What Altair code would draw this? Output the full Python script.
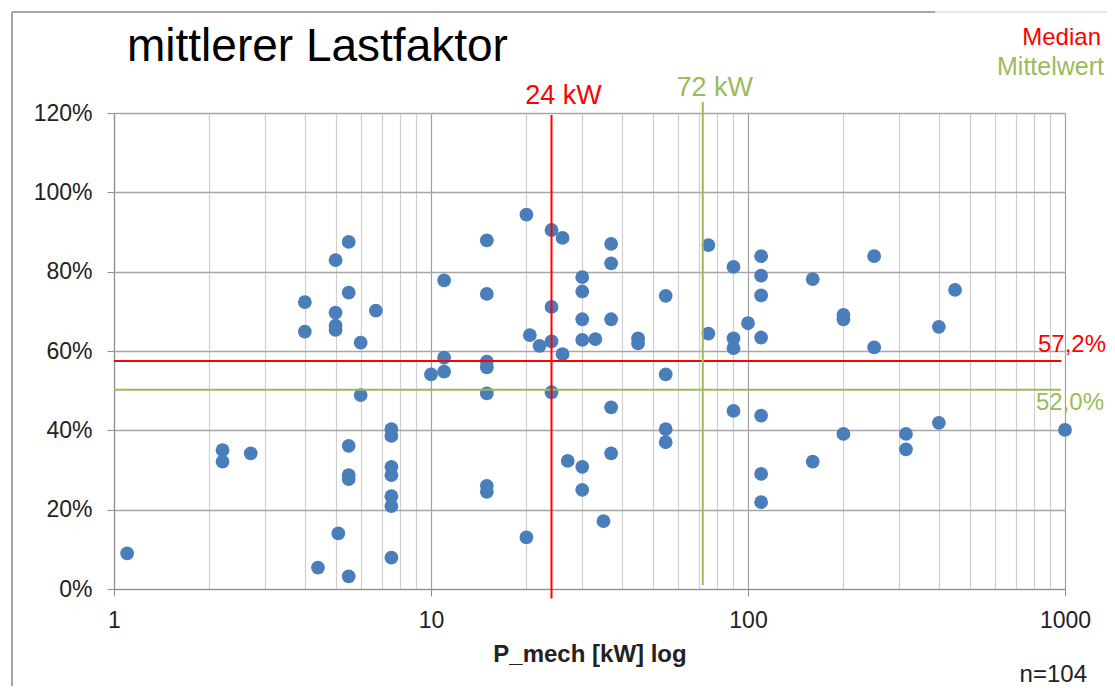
import altair as alt
import pandas as pd

# ---- data ----
p_mech = [
    5.5, 5.0, 5.5, 4.0, 5.0, 6.7, 5.0, 5.0, 4.0, 6.0,
    10.0, 6.0, 7.5, 7.5, 2.2, 2.2, 2.7, 5.5, 5.5, 5.5,
    7.5, 7.5, 7.5, 7.5, 5.1, 1.1, 4.4, 5.5, 7.5,
    20, 24, 26, 15, 37, 37, 75, 90, 11, 30,
    30, 15, 55, 24, 30, 37, 100, 75, 90, 90,
    20.5, 22, 24, 30, 33, 45, 45, 26, 11, 11,
    15, 15, 15, 24, 55, 37, 90, 55, 55, 37,
    27, 30, 15, 15, 30, 35, 20,
    110, 110, 110, 160, 250, 450, 200, 200, 400, 110,
    250, 110, 200, 315, 315, 400, 1000, 160, 110, 110,
]
lastfaktor = [
    87.5, 82.9, 74.7, 72.3, 69.7, 70.2, 66.4, 65.3, 64.9, 62.1,
    54.1, 48.9, 40.3, 38.6, 35.0, 32.1, 34.2, 36.1, 28.7, 27.7,
    30.8, 28.7, 23.4, 20.9, 14.0, 9.0, 5.4, 3.2, 7.9,
    94.4, 90.5, 88.5, 87.9, 87.0, 82.1, 86.7, 81.2, 77.8, 78.6,
    75.0, 74.4, 73.9, 71.1, 68.0, 68.0, 67.0, 64.4, 63.2, 60.7,
    64.0, 61.3, 62.4, 62.8, 63.0, 63.2, 61.9, 59.2, 58.3, 54.8,
    57.3, 55.9, 49.3, 49.6, 54.1, 45.8, 44.9, 40.3, 37.0, 34.2,
    32.3, 30.8, 26.0, 24.5, 25.0, 17.1, 13.0,
    83.9, 79.0, 74.0, 78.1, 83.9, 75.4, 69.1, 68.0, 66.1, 63.4,
    60.9, 43.7, 39.1, 39.1, 35.2, 41.9, 40.1, 32.1, 29.0, 21.9,
]

median_kw = 24
mean_kw = 72
median_lf = 57.5
mean_lf = 50.2
median_lf_label = "57,2%"
mean_lf_label = "52,0%"

x_grid_values = [1, 2, 3, 4, 5, 6, 7, 8, 9,
                 10, 20, 30, 40, 50, 60, 70, 80, 90,
                 100, 200, 300, 400, 500, 600, 700, 800, 900, 1000]
x_label_values = [1, 10, 100, 1000]
y_tick_values = [0, 20, 40, 60, 80, 100, 120]

RED = "#ff0000"
GREEN = "#9bbb59"
BLUE = "#4a7ebb"
FONT = "Liberation Sans"

points_df = pd.DataFrame({"p": p_mech, "lf": lastfaktor})

xscale = alt.Scale(type="log", domain=[1, 1000], nice=False)
yscale = alt.Scale(domain=[0, 120], nice=False)

decade_test = "indexof([" + ",".join(str(v) for v in x_label_values) + "], datum.value) >= 0"

x_axis = alt.Axis(
    values=x_grid_values,
    labelExpr=decade_test + " ? datum.value + '' : ''",
    grid=True,
    gridColor={"condition": {"test": decade_test, "value": "#a0a0a0"}, "value": "#cfcfcf"},
    gridWidth=1.2,
    tickOpacity={"condition": {"test": decade_test, "value": 1}, "value": 0},
    tickSize=7,
    tickColor="#909090",
    domainColor="#909090",
    domainWidth=1.2,
    labelFontSize=23,
    labelFont=FONT,
    labelColor="#222222",
    labelPadding=13,
    labelOverlap=False,
    labelFlush=False,
    title="P_mech [kW] log",
    titleFont=FONT,
    titleFontSize=24,
    titleFontWeight="bold",
    titleColor="#222222",
    titlePadding=10,
)

y_axis = alt.Axis(
    values=y_tick_values,
    labelExpr="datum.value + '%'",
    grid=True,
    gridColor="#a6a6a6",
    gridWidth=1.3,
    tickSize=7,
    tickColor="#909090",
    domainColor="#909090",
    domainWidth=1.2,
    labelFontSize=23,
    labelFont=FONT,
    labelColor="#222222",
    labelPadding=15,
    labelFlush=False,
    title=None,
)

points = alt.Chart(points_df).mark_circle(size=190, color=BLUE, opacity=1).encode(
    x=alt.X("p:Q", scale=xscale, axis=x_axis),
    y=alt.Y("lf:Q", scale=yscale, axis=y_axis),
)

color_scale = alt.Scale(domain=["Median", "Mittelwert"], range=[RED, GREEN])

# horizontal median / mean lines
hlines_df = pd.DataFrame({
    "p": [1, 1], "p2": [975, 970], "lf": [median_lf, mean_lf], "c": ["Median", "Mittelwert"],
})
hlines = alt.Chart(hlines_df).mark_rule(strokeWidth=2).encode(
    x=alt.X("p:Q", scale=xscale, axis=x_axis),
    x2="p2:Q",
    y=alt.Y("lf:Q", scale=yscale, axis=y_axis),
    color=alt.Color("c:N", scale=color_scale, legend=None),
)

# vertical median / mean lines
vlines_df = pd.DataFrame({
    "p": [median_kw, mean_kw], "lf": [119.5, 122.8], "lf2": [-2.4, 1.0], "c": ["Median", "Mittelwert"],
})
vlines = alt.Chart(vlines_df).mark_rule(strokeWidth=2).encode(
    x=alt.X("p:Q", scale=xscale, axis=x_axis),
    y=alt.Y("lf:Q", scale=yscale, axis=y_axis),
    y2="lf2:Q",
    color=alt.Color("c:N", scale=color_scale, legend=None),
)

def kw_label(val, text, color, dy_px):
    df = pd.DataFrame({"p": [val], "t": [text]})
    return alt.Chart(df).mark_text(
        color=color, fontSize=27, font=FONT, align="center", baseline="alphabetic", dx=12
    ).encode(x=alt.X("p:Q", scale=xscale, axis=x_axis), y=alt.value(dy_px), text="t:N")

lbl24 = kw_label(median_kw, "24 kW", RED, -9)
lbl72 = kw_label(mean_kw, "72 kW", GREEN, -17)

def free_text(text, color, x_px, y_px, size, align="right", weight="normal"):
    df = pd.DataFrame({"t": [text]})
    return alt.Chart(df).mark_text(
        color=color, fontSize=size, font=FONT, align=align, baseline="alphabetic", fontWeight=weight
    ).encode(x=alt.value(x_px), y=alt.value(y_px), text="t:N")

title_txt = free_text("mittlerer Lastfaktor", "#000000", 13, -52, 46, align="left")
median_txt = free_text("Median", RED, 987, -68, 24)
mittel_txt = free_text("Mittelwert", GREEN, 990, -38, 25)
med_pct = free_text(median_lf_label, RED, 992, 239, 24)
mean_pct = free_text(mean_lf_label, GREEN, 990, 297, 24)
n_txt = free_text("n=104", "#222222", 973, 569, 24)

frame_df = pd.DataFrame({"a": [0]})
frame_left = alt.Chart(frame_df).mark_rule(color="#a6a6a6", strokeWidth=2).encode(
    x=alt.value(-102), y=alt.value(-101), y2=alt.value(600)
)
frame_top = alt.Chart(frame_df).mark_rule(color="#a6a6a6", strokeWidth=2).encode(
    x=alt.value(-102), x2=alt.value(821), y=alt.value(-101)
)
frame_top2 = alt.Chart(frame_df).mark_rule(color="#e0e0e0", strokeWidth=1.5).encode(
    x=alt.value(821), x2=alt.value(1010), y=alt.value(-101)
)

chart = alt.layer(
    points, hlines, vlines, lbl24, lbl72,
    title_txt, median_txt, mittel_txt, med_pct, mean_pct, n_txt,
    frame_left, frame_top, frame_top2,
).properties(
    width=951,
    height=476,
    padding={"left": 106, "top": 105, "right": 42, "bottom": 97},
    autosize=alt.AutoSizeParams(type="none"),
    background="white",
).configure_view(stroke=None)

chart.save("out.html", embed_options={"renderer": "svg", "actions": False})
